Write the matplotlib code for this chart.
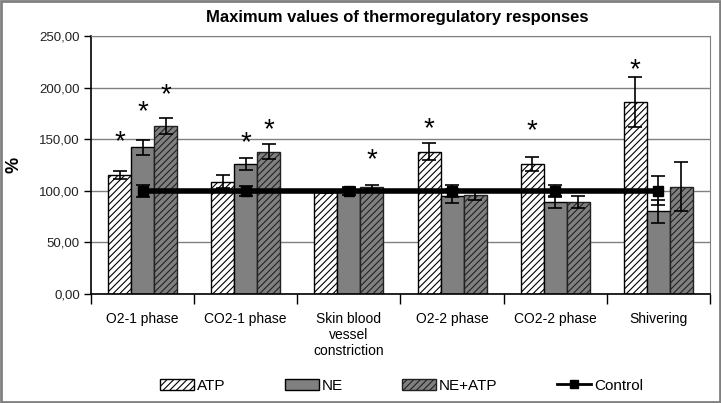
import numpy as np
import matplotlib.pyplot as plt
from matplotlib.patches import Rectangle
from matplotlib.lines import Line2D

plt.rcParams['font.family'] = ['Liberation Sans', 'DejaVu Sans']
plt.rcParams['hatch.linewidth'] = 0.8

# data
categories = ["O2-1 phase", "CO2-1 phase", "Skin blood\nvessel\nconstriction",
              "O2-2 phase", "CO2-2 phase", "Shivering"]
atp = [115, 109, 99, 138, 126, 186]
atp_err = [4, 6, 1, 8, 7, 24]
ne = [142, 126, 101, 95, 89, 80]
ne_err = [7, 6, 2, 7, 6, 11]
ne_atp = [163, 138, 104, 96, 89, 104]
ne_atp_err = [8, 7, 2, 5, 6, 24]
control = [100, 100, 100, 100, 100, 100]
control_err = [6, 5, 4, 6, 6, 14]
yticks = [0, 50, 100, 150, 200, 250]
# asterisks: (group, series index, height)
stars = [(0, 0, 147), (0, 1, 176), (0, 2, 193),
         (1, 1, 146), (1, 2, 159),
         (2, 2, 130),
         (3, 0, 160),
         (4, 0, 158),
         (5, 0, 217)]

fig = plt.figure(figsize=(7.21, 4.03), dpi=100)
ax = fig.add_axes([0.1262, 0.2705, 0.8585, 0.6402])

x = np.arange(len(categories))
w = 0.223
gray = "#808080"
err_kw = dict(elinewidth=1.2, capsize=5, capthick=1.2, ecolor="black")

ax.bar(x - w, atp, w, yerr=atp_err, color="white", edgecolor="black",
       hatch="/////", linewidth=1.0, error_kw=err_kw, zorder=2, label="ATP")
ax.bar(x, ne, w, yerr=ne_err, color=gray, edgecolor="black",
       linewidth=1.0, error_kw=err_kw, zorder=2, label="NE")
ax.bar(x + w, ne_atp, w, yerr=ne_atp_err, color=gray, edgecolor="#222222",
       hatch="/////", linewidth=1.0, error_kw=err_kw, zorder=2, label="NE+ATP")

ax.errorbar(x, control, yerr=control_err, color="black", linewidth=4,
            marker="s", markersize=7, elinewidth=1.2, capsize=5, capthick=1.2,
            zorder=4, label="Control")

offs = [-w, 0, w]
for g, s, h in stars:
    ax.text(x[g] + offs[s], h, "*", ha="center", va="center",
            fontsize=20, zorder=5)

ax.set_xlim(-0.5, len(categories) - 0.5)
ax.set_ylim(0, 250)
ax.set_yticks(yticks)
ax.set_yticklabels(["%d,00" % v for v in yticks], fontsize=9.5, color="#222222")
ax.yaxis.grid(True, color=gray, linewidth=1.0, zorder=0)
ax.set_axisbelow(True)
ax.tick_params(axis="y", direction="out", length=5, width=1, pad=3)

ax.set_xticks(np.arange(-0.5, len(categories), 1.0))
ax.set_xticklabels([])
ax.tick_params(axis="x", direction="out", length=7, width=1)
for i, c in enumerate(categories):
    ax.text(x[i], -17, c, ha="center", va="top", fontsize=10,
            transform=ax.transData)

for side in ("top", "right"):
    ax.spines[side].set_color(gray)
for side in ("left", "bottom"):
    ax.spines[side].set_color("black")
    ax.spines[side].set_linewidth(1.2)

ax.set_ylabel("%", fontsize=13, fontweight="bold", labelpad=12)
fig.text(0.551, 0.957, "Maximum values of thermoregulatory responses",
         ha="center", va="center", fontsize=12, fontweight="bold")

handles = [Rectangle((0, 0), 1, 1, facecolor="white", edgecolor="black", hatch="/////"),
           Rectangle((0, 0), 1, 1, facecolor=gray, edgecolor="black"),
           Rectangle((0, 0), 1, 1, facecolor=gray, edgecolor="#222222", hatch="/////"),
           Line2D([0], [0], color="black", linewidth=2, marker="s", markersize=6)]
fig.legend(handles, ["ATP", "NE", "NE+ATP", "Control"], ncol=4,
           loc="center", bbox_to_anchor=(0.557, 0.043), frameon=False,
           fontsize=11, handlelength=2.2, handleheight=0.7, handletextpad=0.2,
           columnspacing=3.9)

fig.patches.append(Rectangle((0.001, 0.002), 0.997, 0.995, transform=fig.transFigure,
                             fill=False, edgecolor=gray, linewidth=2))

fig.savefig("out.png", dpi=100)
